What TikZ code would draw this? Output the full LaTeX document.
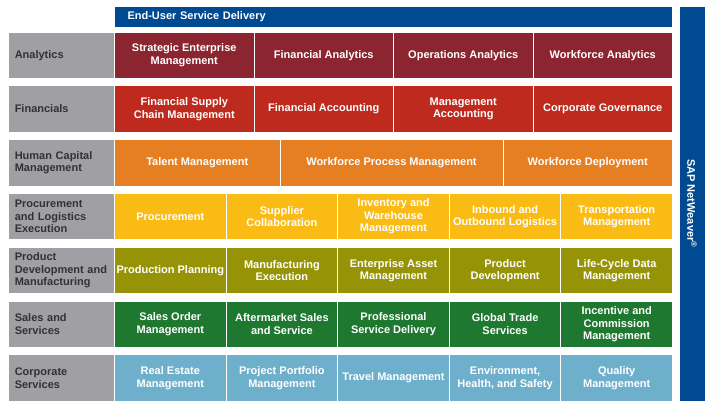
\documentclass[tikz,border=0pt]{standalone}
\usepackage{fontspec}
\setmainfont{Liberation Sans}

\definecolor{sapblue}{RGB}{0,74,145}
\definecolor{areagray}{RGB}{160,160,164}
\definecolor{labeltext}{RGB}{50,50,52}
\definecolor{anared}{RGB}{139,38,48}
\definecolor{finred}{RGB}{190,43,30}
\definecolor{hcmorange}{RGB}{230,126,34}
\definecolor{procyellow}{RGB}{250,187,20}
\definecolor{prodolive}{RGB}{150,148,6}
\definecolor{salesgreen}{RGB}{30,120,47}
\definecolor{corpblue}{RGB}{110,175,204}

\begin{document}
\begin{tikzpicture}[x=1pt,y=-1pt,
		txt/.style={font=\fontsize{11}{12.5}\selectfont\bfseries},
		area/.style={txt,fill=areagray,draw=white,line width=1pt,outer sep=0pt,anchor=north west,
			minimum width=106.5pt,minimum height=46.5pt,text width=97pt,inner xsep=4.75pt,align=left,text=labeltext},
		unit/.style={txt,fill=#1,draw=white,line width=1pt,outer sep=0pt,anchor=north west,
			minimum height=46.5pt,inner xsep=1pt,inner ysep=1pt,align=center,text=white},
		four/.style={unit=#1,minimum width=139.5pt},
		five/.style={unit=#1,minimum width=111.6pt}]
		\useasboundingbox (0,0) rectangle (712,407);
		% top and right bars
		\node[unit=sapblue,minimum width=558pt,minimum height=21pt,text width=532pt,inner xsep=13pt,align=left] (delivery) at (114.5,6) {End-User Service Delivery};
		\node[unit=sapblue,minimum width=26pt,minimum height=395pt] (netweaver) at (679,6) {};
		\node[txt,text=white,rotate=-90] (nwlabel) at (netweaver.center) {SAP NetWeaver\textsuperscript{\textregistered}};
		% analytics
		\node[area] (analytics) at (8,32) {\hspace*{2pt}Analytics};
		\node[four=anared] (sem) at (114.5,32) {Strategic Enterprise\\Management};
		\node[four=anared] (finana) at (254,32) {Financial Analytics};
		\node[four=anared] (opana) at (393.5,32) {Operations Analytics};
		\node[four=anared] (wfana) at (533,32) {Workforce Analytics};
		% financials
		\node[area] (financials) at (8,85.8) {\hspace*{2pt}Financials};
		\node[four=finred] (fscm) at (114.5,85.8) {Financial Supply\\Chain Management};
		\node[four=finred] (finacc) at (254,85.8) {Financial Accounting};
		\node[four=finred] (mgmtacc) at (393.5,85.8) {Management\\Accounting};
		\node[four=finred] (corpgov) at (533,85.8) {Corporate Governance};
		% human capital
		\node[area] (hcm) at (8,139.6) {\hspace*{2pt}Human Capital\\\hspace*{2pt}Management};
		\node[unit=hcmorange,minimum width=165.5pt] (talent) at (114.5,139.6) {Talent Management};
		\node[unit=hcmorange,minimum width=223pt] (wfproc) at (280,139.6) {Workforce Process Management};
		\node[unit=hcmorange,minimum width=169.5pt] (wfdeploy) at (503,139.6) {Workforce Deployment};
		% procurement and logistics
		\node[area] (procure) at (8,193.4) {\hspace*{2pt}Procurement\\\hspace*{2pt}and Logistics\\\hspace*{2pt}Execution};
		\node[five=procyellow] (procurement) at (114.5,193.4) {Procurement};
		\node[five=procyellow] (supplier) at (226.1,193.4) {Supplier\\Collaboration};
		\node[five=procyellow] (inventory) at (337.7,193.4) {Inventory and\\Warehouse\\Management};
		\node[five=procyellow] (inbound) at (449.3,193.4) {Inbound and\\Outbound Logistics};
		\node[five=procyellow] (transport) at (560.9,193.4) {Transportation\\Management};
		% product development
		\node[area] (product) at (8,247.2) {\hspace*{2pt}Product\\\hspace*{2pt}Development and\\\hspace*{2pt}Manufacturing};
		\node[five=prodolive] (prodplan) at (114.5,247.2) {Production Planning};
		\node[five=prodolive] (manuexec) at (226.1,247.2) {Manufacturing\\Execution};
		\node[five=prodolive] (eam) at (337.7,247.2) {Enterprise Asset\\Management};
		\node[five=prodolive] (proddev) at (449.3,247.2) {Product\\Development};
		\node[five=prodolive] (lifecycle) at (560.9,247.2) {Life-Cycle Data\\Management};
		% sales and services
		\node[area] (sales) at (8,301) {\hspace*{2pt}Sales and\\\hspace*{2pt}Services};
		\node[five=salesgreen] (salesorder) at (114.5,301) {Sales Order\\Management};
		\node[five=salesgreen] (aftermarket) at (226.1,301) {Aftermarket Sales\\and Service};
		\node[five=salesgreen] (profserv) at (337.7,301) {Professional\\Service Delivery};
		\node[five=salesgreen] (gts) at (449.3,301) {Global Trade\\Services};
		\node[five=salesgreen] (incentive) at (560.9,301) {Incentive and\\Commission\\Management};
		% corporate services
		\node[area] (corpserv) at (8,354.8) {\hspace*{2pt}Corporate\\\hspace*{2pt}Services};
		\node[five=corpblue] (realestate) at (114.5,354.8) {Real Estate\\Management};
		\node[five=corpblue] (portfolio) at (226.1,354.8) {Project Portfolio\\Management};
		\node[five=corpblue] (travel) at (337.7,354.8) {Travel Management};
		\node[five=corpblue] (ehs) at (449.3,354.8) {Environment,\\Health, and Safety};
		\node[five=corpblue] (quality) at (560.9,354.8) {Quality\\Management};
	\end{tikzpicture}
\end{document}
